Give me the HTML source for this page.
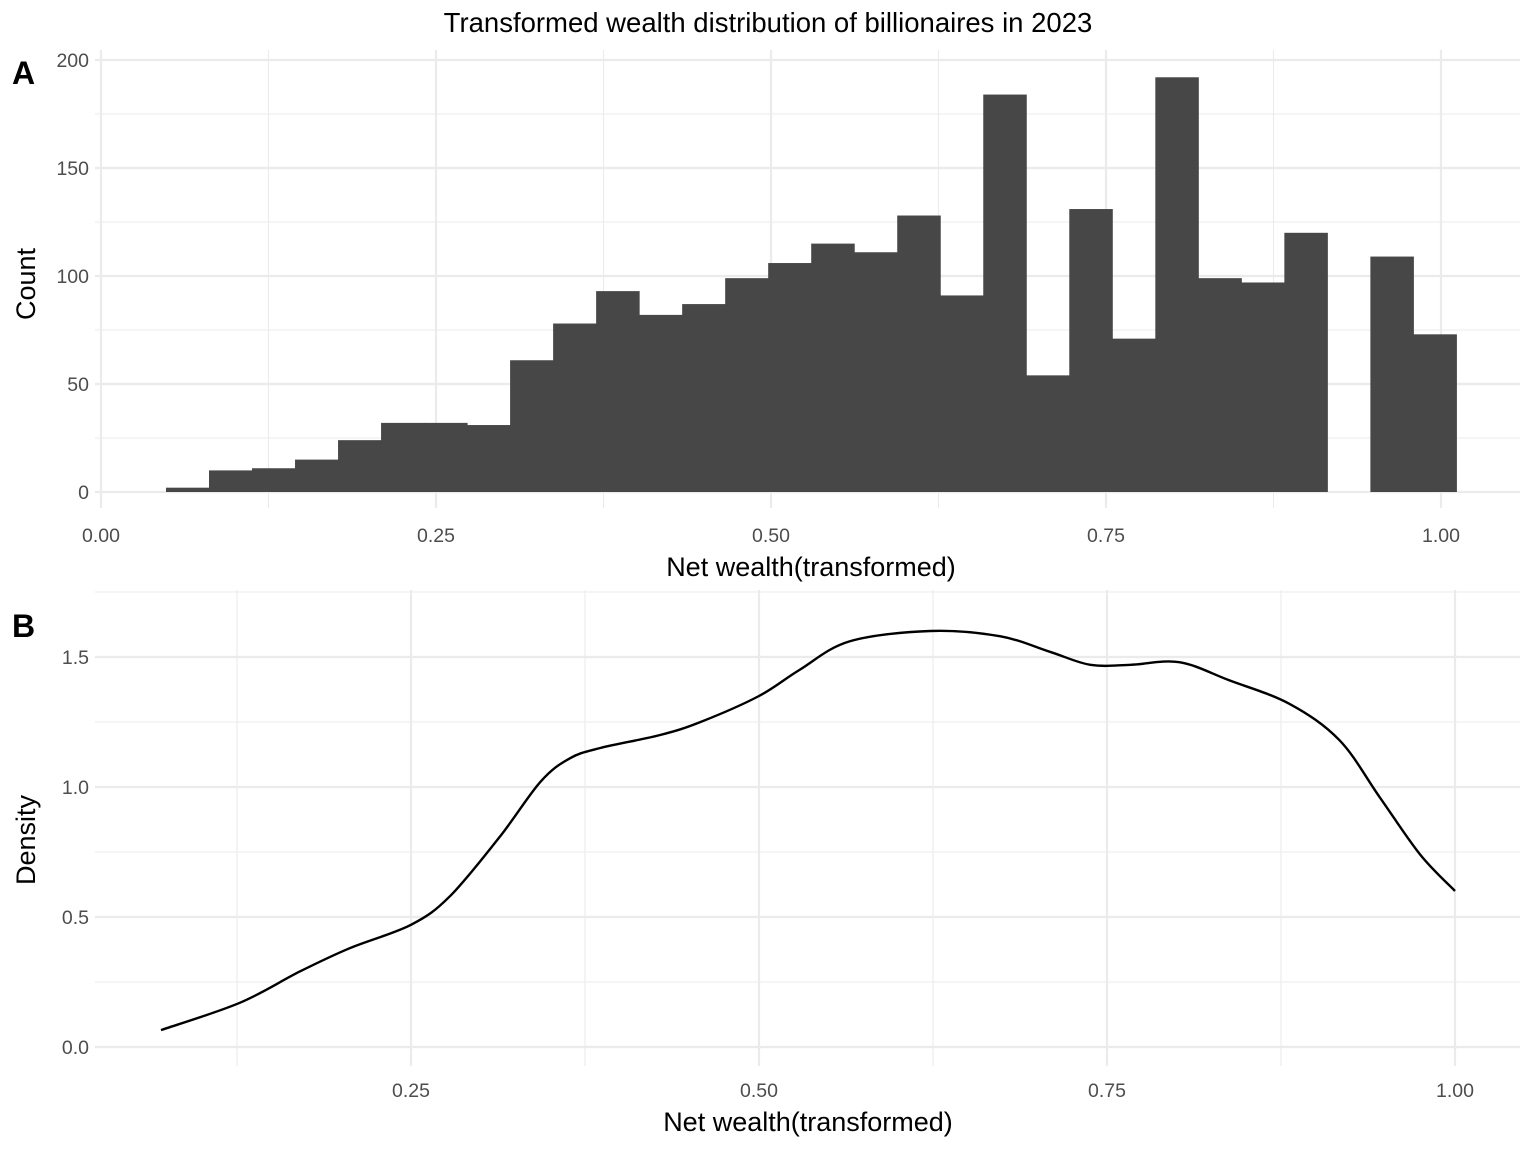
<!DOCTYPE html>
<html><head><meta charset="utf-8"><style>
body{margin:0;background:#fff}
svg{display:block;font-family:"Liberation Sans",Arial,sans-serif}
.tick{font-size:19.5px;fill:#4d4d4d}
.lab{font-size:27px;fill:#000}
.grid{stroke:#ebebeb;stroke-width:2.2}
.gridm{stroke:#ebebeb;stroke-width:1.1}
</style></head><body>
<svg id="chart" width="1536" height="1152" viewBox="0 0 1536 1152">
<text x="768" y="32" text-anchor="middle" font-size="27.5">Transformed wealth distribution of billionaires in 2023</text>
<text x="12" y="84" font-size="32" font-weight="bold">A</text>
<text x="12" y="637" font-size="32" font-weight="bold">B</text>
<g id="pa"></g>
<g id="pb"></g>
<text class="lab" x="811" y="576" text-anchor="middle">Net wealth(transformed)</text>
<text class="lab" transform="translate(35,284) rotate(-90)" text-anchor="middle">Count</text>
<text class="lab" x="808" y="1131" text-anchor="middle">Net wealth(transformed)</text>
<text class="lab" transform="translate(35,840) rotate(-90)" text-anchor="middle">Density</text>
</svg>
<script>
const binStart = 0.0485;
const binWidth = 0.0321;
const counts = [2,10,11,15,24,32,32,31,61,78,93,82,87,99,106,115,111,128,91,184,54,131,71,192,99,97,120,0,109,73];
const histXTicks = [0,0.25,0.5,0.75,1.0];
const histXLabels = ["0.00","0.25","0.50","0.75","1.00"];
const histYTicks = [0,50,100,150,200];
const densX = [0.0704,0.127,0.170,0.206,0.25,0.278,0.314,0.343,0.364,0.386,0.429,0.458,0.50,0.529,0.565,0.623,0.673,0.709,0.738,0.767,0.802,0.838,0.881,0.917,0.946,0.975,1.0];
const densY = [0.065,0.17,0.29,0.38,0.47,0.58,0.81,1.02,1.11,1.15,1.20,1.25,1.35,1.45,1.56,1.60,1.58,1.52,1.47,1.47,1.48,1.41,1.32,1.18,0.96,0.74,0.60];
const densXTicks = [0.25,0.5,0.75,1.0];
const densXLabels = ["0.25","0.50","0.75","1.00"];
const densYTicks = [0,0.5,1.0,1.5];
const densYLabels = ["0.0","0.5","1.0","1.5"];

const NS="http://www.w3.org/2000/svg";
function mk(p,t,a){const e=document.createElementNS(NS,t);for(const k in a)e.setAttribute(k,a[k]);p.appendChild(e);return e;}
const pa=document.getElementById('pa');
const ax=v=>101+v*1340, ay=v=>492-v*2.16;
for(let i=0;i<histYTicks.length;i++){
  const v=histYTicks[i];
  if(i<histYTicks.length-1) mk(pa,'line',{x1:95,x2:1520,y1:ay(v+25),y2:ay(v+25),class:'gridm'});
  mk(pa,'line',{x1:95,x2:1520,y1:ay(v),y2:ay(v),class:'grid'});
  const t=mk(pa,'text',{x:89,y:ay(v)+7,'text-anchor':'end',class:'tick'});t.textContent=v;
  
  
}
for(let i=0;i<histXTicks.length;i++){
  const v=histXTicks[i];
  if(i<histXTicks.length-1) mk(pa,'line',{x1:ax(v+0.125),x2:ax(v+0.125),y1:50,y2:508,class:'gridm'});
  mk(pa,'line',{x1:ax(v),x2:ax(v),y1:50,y2:508,class:'grid'});
  const t=mk(pa,'text',{x:ax(v),y:542,'text-anchor':'middle',class:'tick'});t.textContent=histXLabels[i];
  
  
}
counts.forEach((c,i)=>{
  if(c<=0)return;
  const x0=ax(binStart+i*binWidth),x1=ax(binStart+(i+1)*binWidth);
  const r=mk(pa,'rect',{x:x0,y:ay(c),width:x1-x0+0.5,height:ay(0)-ay(c),fill:'#474747'});
  
  
});
const pb=document.getElementById('pb');
const bx=v=>63+v*1392, by=v=>1047-v*260;
for(let i=0;i<densYTicks.length;i++){
  const v=densYTicks[i];
  mk(pb,'line',{x1:95,x2:1520,y1:by(v+0.25),y2:by(v+0.25),class:'gridm'});
  mk(pb,'line',{x1:95,x2:1520,y1:by(v),y2:by(v),class:'grid'});
  const t=mk(pb,'text',{x:89,y:by(v)+7,'text-anchor':'end',class:'tick'});t.textContent=densYLabels[i];
  
  
}
for(let i=0;i<densXTicks.length;i++){
  const v=densXTicks[i];
  mk(pb,'line',{x1:bx(v-0.125),x2:bx(v-0.125),y1:590,y2:1066,class:'gridm'});
  mk(pb,'line',{x1:bx(v),x2:bx(v),y1:590,y2:1066,class:'grid'});
  const t=mk(pb,'text',{x:bx(v),y:1097,'text-anchor':'middle',class:'tick'});t.textContent=densXLabels[i];
  
  
}
const P=densX.map((x,i)=>[bx(x),by(densY[i])]);
let d='M'+P[0][0]+','+P[0][1];
for(let i=0;i<P.length-1;i++){
  const p0=P[Math.max(i-1,0)],p1=P[i],p2=P[i+1],p3=P[Math.min(i+2,P.length-1)];
  d+=` C${p1[0]+(p2[0]-p0[0])/6},${p1[1]+(p2[1]-p0[1])/6} ${p2[0]-(p3[0]-p1[0])/6},${p2[1]-(p3[1]-p1[1])/6} ${p2[0]},${p2[1]}`;
}
const ln=mk(pb,'path',{d:d,fill:'none',stroke:'#000','stroke-width':2.4});


</script>
</body></html>
